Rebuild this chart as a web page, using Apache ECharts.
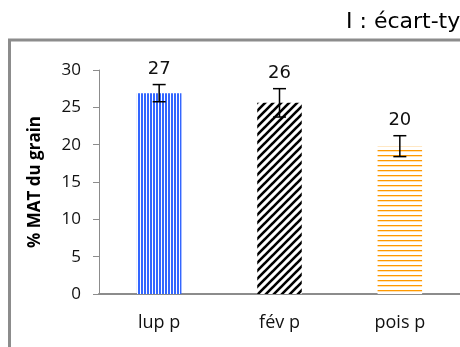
<!DOCTYPE html>
<html><head><meta charset="utf-8">
<script src="https://cdn.jsdelivr.net/npm/echarts@6/dist/echarts.min.js"></script>
<style>html,body{margin:0;padding:0;background:#fff}#c{width:460px;height:347px}</style>
</head><body><div id="c"></div>
<script>
var categories = ['lup p', 'fév p', 'pois p'];
var values = [26.9, 25.6, 19.8];
var errors = [1.15, 1.9, 1.4];
var labels = ['27', '26', '20'];
var yTicks = [0, 5, 10, 15, 20, 25, 30];

function mk(w, h, draw) {
  var c = document.createElement('canvas'); c.width = w; c.height = h;
  var g = c.getContext('2d'); g.fillStyle = '#fff'; g.fillRect(0, 0, w, h); draw(g); return c;
}
var blue = mk(3, 4, function (g) { g.fillStyle = '#3366ff'; g.fillRect(0, 0, 2, 4); });
var diag = mk(8, 8, function (g) {
  g.strokeStyle = '#000'; g.lineWidth = 2.6; g.lineCap = 'square';
  [[-8, 8, 0, 0], [0, 8, 8, 0], [8, 8, 16, 0]].forEach(function (l) {
    g.beginPath(); g.moveTo(l[0], l[1]); g.lineTo(l[2], l[3]); g.stroke();
  });
});
var orange = mk(4, 5, function (g) { g.fillStyle = '#ff9900'; g.fillRect(0, 0, 4, 1.3); });
var patterns = [blue, diag, orange];

var chart = echarts.init(document.getElementById('c'), null, {renderer: 'canvas'});
chart.setOption({
  animation: false,
  graphic: [
    {type: 'rect', shape: {x: 9.5, y: 40, width: 470, height: 330}, style: {fill: 'none', stroke: '#8c8c8c', lineWidth: 3}},
    {type: 'text', left: 346, top: 11, style: {text: 'I : écart-type', font: '22px "DejaVu Sans"', fill: '#000'}}
  ],
  grid: {left: 99, right: 0, top: 70, bottom: 53},
  xAxis: {
    type: 'category', data: categories,
    axisLine: {lineStyle: {color: '#8c8c8c', width: 2}},
    axisTick: {show: false},
    axisLabel: {margin: 20, fontSize: 18, fontFamily: 'Open Sans', color: '#111'}
  },
  yAxis: {
    type: 'value', min: yTicks[0], max: yTicks[yTicks.length - 1], interval: 5,
    name: '% MAT du grain', nameLocation: 'middle', nameGap: 55, nameRotate: 90,
    nameTextStyle: {fontSize: 17, fontWeight: 'bold', fontFamily: 'Open Sans', color: '#000'},
    axisLine: {show: true, lineStyle: {color: '#8c8c8c', width: 1}},
    axisTick: {show: true, length: 6, lineStyle: {color: '#8c8c8c'}},
    splitLine: {show: false},
    axisLabel: {margin: 18, fontSize: 17, fontFamily: 'Open Sans', color: '#111'}
  },
  series: [
    {
      type: 'bar', barWidth: '37%',
      data: values.map(function (v, i) {
        return {value: v, itemStyle: {color: {image: patterns[i], repeat: 'repeat'}}};
      })
    },
    {
      type: 'custom',
      data: values.map(function (v, i) { return [i, v, errors[i], labels[i]]; }),
      renderItem: function (params, api) {
        var x = api.coord([api.value(0), 0])[0];
        var v = api.value(1), e = api.value(2);
        var top = api.coord([api.value(0), v + e])[1];
        var bot = api.coord([api.value(0), v - e])[1];
        var hw = 6.5;
        var ls = {stroke: '#000', lineWidth: 1.5};
        return {type: 'group', children: [
          {type: 'line', shape: {x1: x, y1: top, x2: x, y2: bot}, style: ls},
          {type: 'line', shape: {x1: x - hw, y1: top, x2: x + hw, y2: top}, style: ls},
          {type: 'line', shape: {x1: x - hw, y1: bot, x2: x + hw, y2: bot}, style: ls},
          {type: 'text', x: x, y: top - 6, style: {text: labels[params.dataIndex], font: '18px "DejaVu Sans"', fill: '#111', align: 'center', verticalAlign: 'bottom'}}
        ]};
      },
      z: 5
    }
  ]
});
</script></body></html>
